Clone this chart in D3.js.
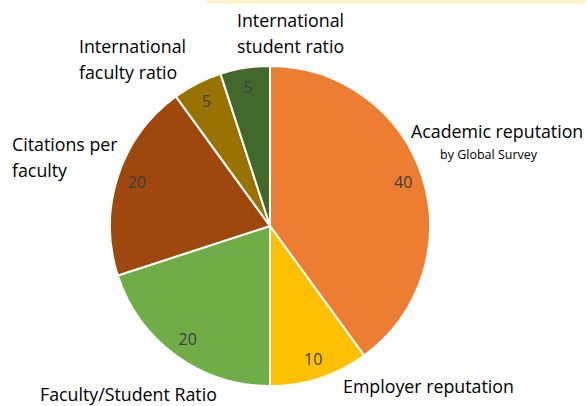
<!DOCTYPE html>
<html>
<head>
<meta charset="utf-8">
<script src="https://cdn.jsdelivr.net/npm/d3@7"></script>
<style>
  body { margin: 0; background: #fff; }
  text { font-family: "Open Sans", "DejaVu Sans", sans-serif; }
</style>
</head>
<body>
<div id="container"></div>
<script>
// data
const categories = ["Academic reputation", "Employer reputation", "Faculty/Student Ratio",
    "Citations per faculty", "International faculty ratio", "International student ratio"];
const weights = [40, 10, 20, 20, 5, 5];
const colors = ["#ED7D31", "#FFC000", "#70AD47", "#9E480E", "#997300", "#43682B"];

// category label lines and their anchor points
const labelLines = [
    ["Academic reputation"],
    ["Employer reputation"],
    ["Faculty/Student Ratio"],
    ["Citations per", "faculty"],
    ["International", "faculty ratio"],
    ["International", "student ratio"]
];
const labelPos = [[411, 138], [343, 393], [40, 401], [12, 151], [79, 53], [237, 27]];

const width = 587, height = 406;
const cx = 270, cy = 226, radius = 160;

const svg = d3.select("div#container").append("svg")
    .attr("width", width).attr("height", height);

// pale strip at top
svg.append("rect")
    .attr("x", 207).attr("y", 0)
    .attr("width", 378).attr("height", 4)
    .attr("fill", "#FFF2CC");

const pie = d3.pie().sort(null).value(d => d.value);
const arcs = pie(categories.map((c, i) => ({ name: c, value: weights[i], color: colors[i] })));

const arc = d3.arc().innerRadius(0).outerRadius(radius);
const labelArc = d3.arc().innerRadius(140).outerRadius(140);

const g = svg.append("g").attr("transform", `translate(${cx},${cy})`);

g.selectAll("path.slice")
    .data(arcs)
    .enter()
    .append("path")
    .attr("class", "slice")
    .attr("d", arc)
    .attr("fill", d => d.data.color)
    .attr("stroke", "#fff")
    .attr("stroke-width", 2);

// value labels
g.selectAll("text.val")
    .data(arcs)
    .enter()
    .append("text")
    .attr("class", "val")
    .attr("transform", d => `translate(${labelArc.centroid(d)})`)
    .attr("text-anchor", "middle")
    .attr("dy", "0.35em")
    .attr("fill", "#404040")
    .attr("font-size", 16)
    .text(d => d.data.value);

// category labels
labelLines.forEach((lines, i) => {
    const t = svg.append("text")
        .attr("x", labelPos[i][0])
        .attr("y", labelPos[i][1])
        .attr("fill", "#000")
        .attr("font-size", 17.8);
    lines.forEach((l, j) => {
        t.append("tspan")
            .attr("x", labelPos[i][0])
            .attr("dy", j === 0 ? 0 : 26)
            .text(l);
    });
});

svg.append("text")
    .attr("x", 440).attr("y", 159)
    .attr("font-size", 12.5)
    .attr("fill", "#000")
    .text("by Global Survey");
</script>
</body>
</html>
